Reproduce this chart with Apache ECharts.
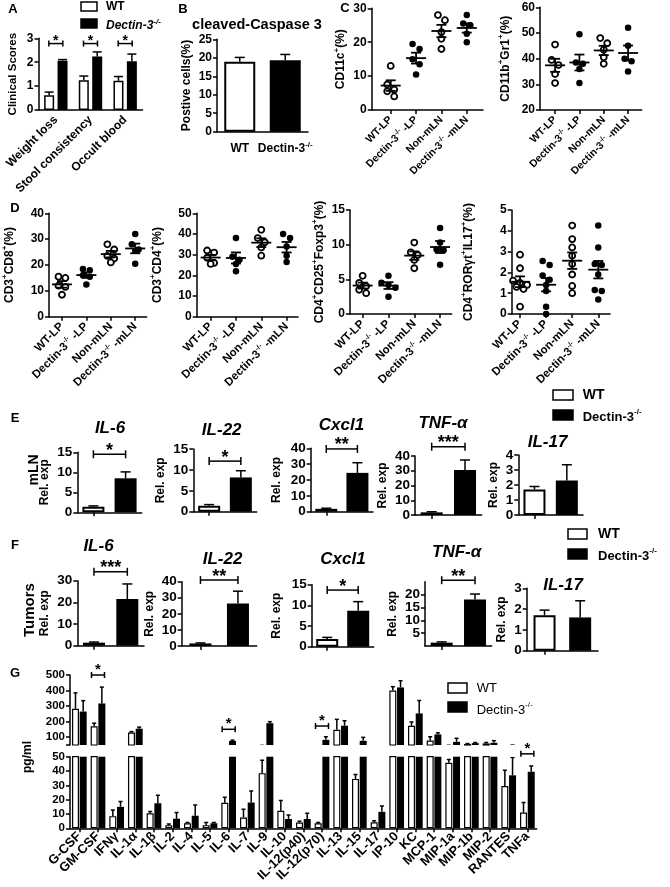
<!DOCTYPE html>
<html>
<head>
<meta charset="utf-8">
<title>Dectin-3 figure</title>
<script src="https://cdn.jsdelivr.net/npm/echarts@6/dist/echarts.min.js"></script>
<style>
  html, body { margin: 0; padding: 0; background: #fff; }
  #chart { width: 670px; height: 887px; }
</style>
</head>
<body>
<div id="chart"></div>
<script>
const FONT = '"Liberation Sans", Arial, sans-serif';

// ---- A: clinical scores
const aCats = ['Weight loss', 'Stool consistency', 'Occult blood'];
const aWT = [0.62, 1.24, 1.22];
const aWTErr = [0.13, 0.18, 0.18];
const aKO = [2.06, 2.24, 2.04];
const aKOErr = [0.05, 0.19, 0.3];
const aSig = ['*', '*', '*'];
const aSigAt = [2.78, 2.78, 2.78];

// ---- B: cleaved-Caspase 3
const bCats = ['WT', 'Dectin-3{s|-/-}'];
const bMean = [18.9, 19.3];
const bErr = [1.2, 1.6];

// ---- C, D: flow cytometry (%), one list per group
const scatterCats = ['WT-LP', 'Dectin-3{s|-/-} -LP', 'Non-mLN', 'Dectin-3{s|-/-} -mLN'];
const cd11c = [[13, 7.5, 6, 5.5, 4], [19.5, 18, 15, 13.5, 10.5], [28, 26.5, 23, 21, 18], [28, 25.5, 25, 22.5, 20]];
const cd11bGr1 = [[45.5, 39.5, 37.5, 34, 30.5], [49.5, 38.5, 38, 36, 30.5], [48, 46, 43.5, 40.5, 38], [52, 45, 40, 39, 35]];
const cd3cd8 = [[15.5, 15, 12, 11.5, 8.5], [18.5, 18, 16, 15.5, 12.5], [28, 26, 23.5, 22.5, 21], [32, 28, 26, 25.5, 20.5]];
const cd3cd4 = [[32, 31, 28.5, 26, 25.5], [38, 29, 27.5, 25.5, 22], [42, 38, 36, 33.5, 29.5], [40, 38, 34, 29.5, 26.5]];
const cd25foxp3 = [[5.5, 4.5, 4, 3.5, 3], [5.5, 4.5, 4.2, 3.8, 2.5], [10.3, 8.9, 8.5, 7.8, 6.6], [12.4, 10.3, 9.3, 9.2, 7.1]];
const rorIl17 = [[2.85, 2.2, 1.6, 1.5, 1.4, 1.3, 1.2, 0.35], [2.55, 2.35, 1.85, 1.65, 1.4, 1.1, 0.35, 0],
                 [4.25, 3.6, 3.2, 2.8, 2.4, 1.9, 1.35, 1.0], [4.25, 3.2, 2.4, 2.35, 1.9, 1.15, 1.1, 0.7]];

// ---- E: mLN relative expression
const genes = ['IL-6', 'IL-22', 'Cxcl1', 'TNF-α', 'IL-17'];
const eWT = [1.4, 1.4, 1.8, 1.8, 1.7];
const eWTErr = [0.2, 0.3, 0.4, 0.4, 0.2];
const eKO = [8.5, 8.2, 24.5, 30.5, 2.3];
const eKOErr = [1.6, 1.6, 6.4, 6.8, 1.05];
const eMax = [15, 15, 40, 40, 4];
const eStep = [5, 5, 10, 10, 1];
const eSig = ['*', '*', '**', '***', ''];
const eSigAt = [14.5, 12.1, 39.6, 46.3, 0];

// ---- F: tumor relative expression
const fWT = [1.4, 1.6, 1.85, 1.3, 1.7];
const fWTErr = [0.3, 0.3, 0.4, 0.3, 0.25];
const fKO = [21.5, 26.5, 8.7, 18.1, 1.6];
const fKOErr = [7, 7.6, 2.2, 2.1, 0.8];
const fMax = [30, 40, 15, 25, 3];
const fStep = [10, 10, 5, 5, 1];
const fSig = ['***', '**', '*', '**', ''];
const fSigAt = [34.1, 41, 13.7, 25.6, 0];

// ---- G: cytokines (pg/ml)
const gCats = ['G-CSF', 'GM-CSF', 'IFNγ', 'IL-1α', 'IL-1β', 'IL-2', 'IL-4', 'IL-5', 'IL-6', 'IL-7', 'IL-9', 'IL-10',
               'IL-12(p40)', 'IL-12(p70)', 'IL-13', 'IL-15', 'IL-17', 'IP-10', 'KC', 'MCP-1', 'MIP-1a', 'MIP-1b', 'MIP-2', 'RANTES', 'TNFa'];
const gWT = [283, 170, 8.5, 130, 10.5, 2.2, 3.5, 2.2, 17.8, 7.5, 38.5, 12.2, 4, 3.5, 148, 34.5, 4.2, 400, 173, 79, 45.8, 56, 60, 29.5, 11];
const gWTErr = [102, 20, 4.3, 6, 1.2, 0.8, 0.5, 1.8, 3.8, 5.8, 9, 7.2, 1, 0.5, 67, 3, 1, 25, 25, 24, 2.3, 3, 6, 11, 7];
const gKO = [265, 317, 15, 155, 17.5, 6.7, 8.8, 3.5, 76, 18, 190, 6.5, 6.5, 83, 174, 77, 11.5, 420, 253, 118, 70, 62, 64, 37, 39.5];
const gKOErr = [70, 105, 3.7, 10, 5.5, 4.3, 7.5, 0.5, 5, 8, 10, 2.8, 4, 20, 32, 22, 4, 43, 83, 10, 23, 4, 14, 12.5, 4];
const gSig = ['*', '*', '*'];
const gSigCats = [1, 8, 13];
const gSigAt = [500, 151, 172];
const gSigLow = ['*'];
const gSigLowCats = [24];
const gSigLowAt = [52];

// ---------------------------------------------------------------
const BOLD = 700;
const LINE = { color: '#000', width: 1.5 };
const grids = [], xAxes = [], yAxes = [], series = [], graphics = [];

function supRich(size, italic, weight) {
  const s = Math.round(size * 0.65);
  return { s: { fontSize: s, lineHeight: s, verticalAlign: 'top', fontWeight: weight || BOLD, fontFamily: FONT, color: '#000',
                fontStyle: italic ? 'italic' : 'normal' } };
}

function addGrid(box, xAxis, yAxis) {
  const i = grids.length;
  grids.push({ left: box[0], top: box[1], width: box[2], height: box[3] });
  xAxes.push(Object.assign({ gridIndex: i }, xAxis));
  yAxes.push(Object.assign({ gridIndex: i }, yAxis));
  return i;
}

function yAxisOf(min, max, step, name, nameGap, labelSize, nameSize) {
  return {
    type: 'value', min, max, interval: step,
    name, nameLocation: 'middle', nameGap, nameRotate: 90,
    nameTextStyle: { color: '#000', fontFamily: FONT, fontWeight: BOLD, fontSize: nameSize,
                     lineHeight: Math.round(nameSize * 1.4), rich: supRich(nameSize) },
    axisLine: { show: true, onZero: false, lineStyle: LINE },
    axisTick: { show: true, length: 4, lineStyle: LINE },
    axisLabel: { color: '#000', fontFamily: FONT, fontWeight: BOLD, fontSize: labelSize, margin: 5 },
    splitLine: { show: false }
  };
}

function catX(data, opts) {
  return Object.assign({
    type: 'category', data,
    axisLine: { show: true, onZero: false, lineStyle: LINE },
    axisTick: { show: false },
    axisLabel: { show: false },
    splitLine: { show: false }
  }, opts);
}

function seg(x1, y1, x2, y2, w) {
  return { type: 'line', shape: { x1, y1, x2, y2 }, style: { stroke: '#000', lineWidth: w || 1.5 } };
}

// upward error bar: data [x, value, err]
function errSeries(gi, data, dx, cap, clip) {
  return {
    type: 'custom', xAxisIndex: gi, yAxisIndex: gi, data, clip: !!clip, silent: true, z: 4,
    encode: { x: 0, y: 1 },
    renderItem: (params, api) => {
      const p0 = api.coord([api.value(0), api.value(1)]);
      const p1 = api.coord([api.value(0), api.value(1) + api.value(2)]);
      const cx = p0[0] + dx;
      return { type: 'group', children: [seg(cx, p0[1], cx, p1[1]), seg(cx - cap / 2, p1[1], cx + cap / 2, p1[1])] };
    }
  };
}

// significance bracket: data [xFrom, xTo, level]
function bracketSeries(gi, data, stars, dxL, dxR, size, starOff, capH) {
  return {
    type: 'custom', xAxisIndex: gi, yAxisIndex: gi, data, clip: false, silent: true, z: 5,
    encode: { x: [0, 1], y: 2 },
    renderItem: (params, api) => {
      const l = api.coord([api.value(0), api.value(2)]);
      const r = api.coord([api.value(1), api.value(2)]);
      const x1 = l[0] + dxL, x2 = r[0] + dxR, y = l[1];
      return { type: 'group', children: [
        seg(x1, y, x2, y), seg(x1, y - capH, x1, y + capH), seg(x2, y - capH, x2, y + capH),
        { type: 'text', x: (x1 + x2) / 2, y: y - starOff,
          style: { text: stars[params.dataIndex], fill: '#000', fontFamily: FONT, fontWeight: BOLD,
                   fontSize: size, align: 'center', verticalAlign: 'middle' } }
      ] };
    }
  };
}

// mean +/- SEM marks: data [x, mean, sem]
function meanSeries(gi, data) {
  return {
    type: 'custom', xAxisIndex: gi, yAxisIndex: gi, data, silent: true, z: 6,
    encode: { x: 0, y: 1 },
    renderItem: (params, api) => {
      const x = api.value(0), m = api.value(1), s = api.value(2);
      const pm = api.coord([x, m]), pu = api.coord([x, m + s]), pd = api.coord([x, m - s]);
      return { type: 'group', children: [
        seg(pm[0] - 10, pm[1], pm[0] + 10, pm[1], 1.8),
        seg(pm[0], pu[1], pm[0], pd[1], 1.8),
        seg(pm[0] - 5, pu[1], pm[0] + 5, pu[1], 1.8),
        seg(pm[0] - 5, pd[1], pm[0] + 5, pd[1], 1.8)
      ] };
    }
  };
}

// spread points that would overlap (pixel distances)
function swarm(vals, idx, pxX, pxY, d) {
  const sorted = vals.slice().sort((a, b) => b - a);
  const pts = [];
  let i = 0;
  while (i < sorted.length) {
    let j = i + 1;
    while (j < sorted.length && (sorted[i] - sorted[j]) * pxY < d * 0.85) j++;
    const n = j - i;
    for (let k = 0; k < n; k++) {
      const off = (k - (n - 1) / 2) * d;
      pts.push([idx + off / pxX, sorted[i + k]]);
    }
    i = j;
  }
  return pts;
}

function addScatter(box, xr, yr, groups, name, nameGap, labelSize) {
  const ticks = scatterCats.map((c, i) => i);
  const gi = addGrid(box, {
    type: 'value', min: xr[0], max: xr[1],
    axisLine: { show: true, onZero: false, lineStyle: LINE },
    axisTick: { show: true, length: 4, lineStyle: LINE, customValues: ticks },
    axisLabel: { customValues: ticks, formatter: v => scatterCats[Math.round(v)], rotate: 45, margin: 8,
                 color: '#000', fontFamily: FONT, fontWeight: BOLD, fontSize: labelSize,
                 lineHeight: labelSize + 3, rich: supRich(labelSize) },
    splitLine: { show: false }
  }, yAxisOf(yr[0], yr[1], yr[2], name, nameGap, 12, 12));
  const pxX = box[2] / (xr[1] - xr[0]);
  const pxY = box[3] / (yr[1] - yr[0]);
  const open = [], filled = [], stats = [];
  groups.forEach((vals, g) => {
    (g % 2 === 0 ? open : filled).push(...swarm(vals, g, pxX, pxY, 7));
    const n = vals.length;
    const m = vals.reduce((a, b) => a + b, 0) / n;
    const sd = Math.sqrt(vals.reduce((a, b) => a + (b - m) * (b - m), 0) / (n - 1));
    stats.push([g, m, sd / Math.sqrt(n)]);
  });
  series.push({ type: 'scatter', xAxisIndex: gi, yAxisIndex: gi, data: open, symbol: 'circle', symbolSize: 6,
                itemStyle: { color: '#fff', borderColor: '#000', borderWidth: 1.8, opacity: 1 }, z: 3 });
  series.push({ type: 'scatter', xAxisIndex: gi, yAxisIndex: gi, data: filled, symbol: 'circle', symbolSize: 6.5,
                itemStyle: { color: '#000', opacity: 1 }, z: 3 });
  series.push(meanSeries(gi, stats));
}

function addRelExp(box, i, wt, wtErr, ko, koErr, max, step, nameGap, sig, sigAt) {
  const gi = addGrid(box,
    catX(['WT', 'Dectin-3-/-'], { axisTick: { show: true, alignWithLabel: true, length: 4, lineStyle: LINE } }),
    yAxisOf(0, max[i], step[i], 'Rel. exp', nameGap, 13.5, 12));
  series.push({ type: 'bar', xAxisIndex: gi, yAxisIndex: gi, barWidth: 22, data: [
    { value: wt[i], itemStyle: { color: '#fff', borderColor: '#000', borderWidth: 2 } },
    { value: ko[i], itemStyle: { color: '#000' } }
  ] });
  series.push(errSeries(gi, [[0, wt[i], wtErr[i]], [1, ko[i], koErr[i]]], 0, 10));
  if (sig[i]) series.push(bracketSeries(gi, [[0, 1, sigAt[i]]], [sig[i]], 0, 0, 18, 3.5, 4));
}

function txt(x, y, text, size, style, rotation) {
  graphics.push({ type: 'text', x, y, rotation: rotation || 0, silent: true,
    style: Object.assign({ text, fill: '#000', fontFamily: FONT, fontSize: size, fontWeight: BOLD,
                           align: 'center', verticalAlign: 'middle' }, style || {}) });
}
function box(x, y, w, h, filled) {
  graphics.push({ type: 'rect', silent: true, shape: { x, y, width: w, height: h },
    style: { fill: filled ? '#000' : '#fff', stroke: '#000', lineWidth: 1.5 } });
}

// ---------------- A
const gA = addGrid([38.5, 38.3, 104, 71.7],
  catX(aCats, { axisLabel: { show: true, interval: 0, rotate: 45, margin: 8, color: '#000', fontFamily: FONT, fontWeight: BOLD, fontSize: 12 } }),
  yAxisOf(0, 3, 1, 'Clinical Scores', 18, 12, 11.5));
series.push({ type: 'bar', xAxisIndex: gA, yAxisIndex: gA, barWidth: 10, barGap: '34%', data: aWT,
              itemStyle: { color: '#fff', borderColor: '#000', borderWidth: 1.5 } });
series.push({ type: 'bar', xAxisIndex: gA, yAxisIndex: gA, barWidth: 10, barGap: '34%', data: aKO,
              itemStyle: { color: '#000' } });
series.push(errSeries(gA, aWT.map((v, i) => [i, v, aWTErr[i]]), -6.7, 9));
series.push(errSeries(gA, aKO.map((v, i) => [i, v, aKOErr[i]]), 6.7, 9));
series.push(bracketSeries(gA, aSigAt.map((v, i) => [i, i, v]), aSig, -7, 7, 14, 2.5, 3));

// ---------------- B
const gB = addGrid([217, 39.3, 91, 92.4],
  catX(bCats, { axisLabel: { show: true, interval: 0, margin: 9, color: '#000', fontFamily: FONT, fontWeight: BOLD,
                             fontSize: 12, lineHeight: 16, rich: supRich(12) } }),
  yAxisOf(0, 25, 5, 'Postive cells(%)', 21, 12, 12));
series.push({ type: 'bar', xAxisIndex: gB, yAxisIndex: gB, barWidth: 31, data: [
  { value: bMean[0], itemStyle: { color: '#fff', borderColor: '#000', borderWidth: 2 } },
  { value: bMean[1], itemStyle: { color: '#000' } }
] });
series.push(errSeries(gB, bMean.map((v, i) => [i, v, bErr[i]]), 0, 10));

// ---------------- C, D
addScatter([371.7, 8.3, 111.3, 101.7], [-0.75, 3.64], [0, 30, 10], cd11c, 'CD11c{s|+}(%)', 21, 10.5);
addScatter([540, 7.3, 101.7, 102.7], [-0.62, 3.56], [20, 60, 10], cd11bGr1, 'CD11b{s|+}Gr1{s|+}(%)', 26, 10.5);
addScatter([46.7, 213.3, 100, 103.4], [-0.53, 3.47], [0, 40, 10], cd3cd8, 'CD3{s|+}CD8{s|+}(%)', 31, 11.5);
addScatter([196.7, 213.3, 101.3, 103.4], [-0.55, 3.45], [0, 50, 10], cd3cd4, 'CD3{s|+}CD4{s|+}(%)', 31, 11.5);
addScatter([350, 210, 101.7, 104], [-0.49, 3.45], [0, 15, 5], cd25foxp3, 'CD4{s|+}CD25{s|+}Foxp3{s|+}(%)', 22, 11.5);
addScatter([511.7, 210, 98.3, 104], [-0.32, 3.45], [0, 5, 1], rorIl17, 'CD4{s|+}RORγt{s|+}IL17{s|+}(%)', 35, 11.5);

// ---------------- E, F
const eBoxes = [[77.3, 452.3, 64.4, 60], [193.3, 449, 63.4, 62.7], [310.7, 448.3, 62.3, 63.4], [415, 456, 66.7, 59], [518.3, 455, 64.7, 60]];
const eGaps = [23, 23, 26, 16, 9];
const eTitles = [[110, 428], [221.7, 430], [341.5, 425], [443, 423], [547.5, 442]];
const fBoxes = [[77.3, 580.7, 66.7, 65], [181.7, 581.7, 75, 64.3], [311.7, 584.7, 62, 62], [425, 581.7, 66.7, 64.3], [526.7, 588.3, 71.3, 62.4]];
const fGaps = [21, 12, 27, 20, 8];
const fTitles = [[98.5, 546], [222.5, 559], [343, 559], [456.7, 552], [563, 585]];
genes.forEach((g, i) => {
  addRelExp(eBoxes[i], i, eWT, eWTErr, eKO, eKOErr, eMax, eStep, eGaps[i], eSig, eSigAt);
  addRelExp(fBoxes[i], i, fWT, fWTErr, fKO, fKOErr, fMax, fStep, fGaps[i], fSig, fSigAt);
  txt(eTitles[i][0], eTitles[i][1], g, 17, { fontStyle: 'italic' });
  txt(fTitles[i][0], fTitles[i][1], g, 17, { fontStyle: 'italic' });
});

// ---------------- G (broken axis: two grids)
const gTop = addGrid([70, 675, 466.7, 70],
  catX(gCats, { axisLine: { show: false } }),
  Object.assign(yAxisOf(50, 500, null, '', 0, 11.5, 11), {
    interval: undefined,
    axisTick: { show: true, length: 4, lineStyle: LINE, customValues: [50, 100, 200, 300, 400, 500] },
    axisLabel: { color: '#000', fontFamily: FONT, fontWeight: BOLD, fontSize: 11.5, margin: 5, customValues: [100, 200, 300, 400, 500] }
  }));
const gLow = addGrid([70, 756.7, 466.7, 71.6],
  catX(gCats, { axisTick: { show: true, alignWithLabel: true, length: 4, lineStyle: LINE },
                axisLabel: { show: true, interval: 0, rotate: 45, margin: 6, color: '#000', fontFamily: FONT, fontWeight: BOLD, fontSize: 13 } }),
  yAxisOf(0, 50, 10, '', 0, 11.5, 11));
[gTop, gLow].forEach(gi => {
  series.push({ type: 'bar', xAxisIndex: gi, yAxisIndex: gi, barWidth: 7, barGap: '10%', data: gWT, clip: true,
                itemStyle: { color: '#fff', borderColor: '#000', borderWidth: 1.2 } });
  series.push({ type: 'bar', xAxisIndex: gi, yAxisIndex: gi, barWidth: 7, barGap: '10%', data: gKO, clip: true,
                itemStyle: { color: '#000' } });
  series.push(errSeries(gi, gWT.map((v, i) => [i, v, gWTErr[i]]), -3.85, 4, true));
  series.push(errSeries(gi, gKO.map((v, i) => [i, v, gKOErr[i]]), 3.85, 4, true));
});
series.push(bracketSeries(gTop, gSigCats.map((c, i) => [c, c, gSigAt[i]]), gSig, -6.5, 6.5, 15, 5, 3));
series.push(bracketSeries(gLow, gSigLowCats.map((c, i) => [c, c, gSigLowAt[i]]), gSigLow, -6.5, 6.5, 15, 5, 3));

// ---------------- texts, legends
[['A', 13, 9], ['B', 183, 9], ['C', 345, 8], ['D', 15, 208], ['E', 15, 418], ['F', 15, 545], ['G', 15, 673]]
  .forEach(p => txt(p[1], p[2], p[0], 13));
txt(257, 25, 'cleaved-Caspase 3', 14.5);
txt(34, 470, 'mLN', 14, null, Math.PI / 2);
txt(30, 610, 'Tumors', 15, null, Math.PI / 2);
txt(28, 757, 'pg/ml', 12, null, Math.PI / 2);

// legend A
box(81, 2, 16, 9, false); box(81, 19, 16, 9, true);
txt(106, 6.5, 'WT', 12, { align: 'left' });
txt(106, 26, 'Dectin-3{s|-/-}', 12, { align: 'left', fontStyle: 'italic', lineHeight: 17, rich: supRich(12, true) });
// legend E
box(553, 390, 20, 10, false); box(553, 410, 20, 10, true);
txt(582.7, 395, 'WT', 14, { align: 'left' });
txt(582.7, 417, 'Dectin-3{s|-/-}', 13, { align: 'left', lineHeight: 18, rich: supRich(13) });
// legend F
box(568, 529, 19, 10, false); box(568, 549, 19, 10, true);
txt(598, 534, 'WT', 14, { align: 'left' });
txt(598, 556, 'Dectin-3{s|-/-}', 13, { align: 'left', lineHeight: 18, rich: supRich(13) });
// legend G
box(448, 683, 19, 10, false); box(448, 702, 19, 10, true);
txt(476.7, 688, 'WT', 13, { align: 'left', fontWeight: 'normal' });
txt(476.7, 710, 'Dectin-3{s|-/-}', 13, { align: 'left', fontWeight: 'normal', lineHeight: 18, rich: supRich(13, false, 'normal') });

const chart = echarts.init(document.getElementById('chart'));
chart.setOption({
  animation: false,
  backgroundColor: '#fff',
  grid: grids,
  xAxis: xAxes,
  yAxis: yAxes,
  series,
  graphic: graphics
});
window.addEventListener('resize', () => chart.resize());
</script>
</body>
</html>
